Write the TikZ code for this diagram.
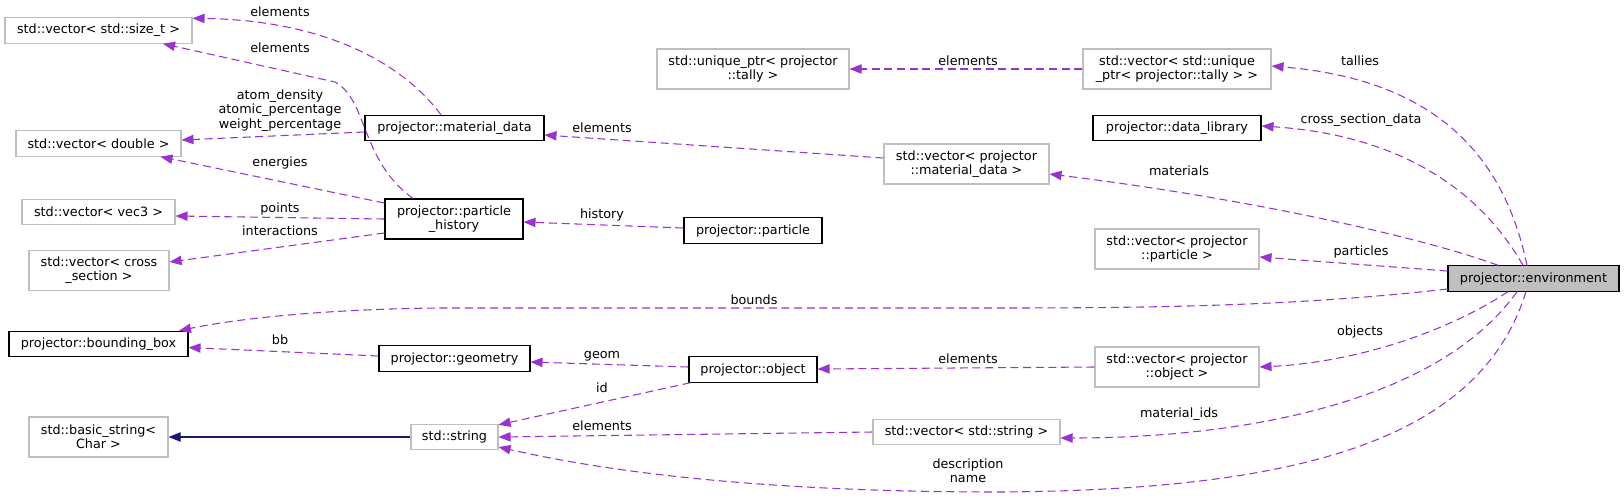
\documentclass[tikz,border=0pt]{standalone}
\usepackage{fontspec}
\setmainfont{DejaVu Sans}
\usetikzlibrary{arrows.meta,calc}
\definecolor{edgec}{HTML}{9A32CD}
\definecolor{greyb}{HTML}{BFBFBF}
\definecolor{navyc}{HTML}{191970}
\tikzset{
  base/.style={font=\fontsize{9.58}{10.7}\selectfont, inner sep=0pt, align=center, text=black},
  gbox/.style={base, draw=greyb, line width=0.8pt, minimum height=19pt},
  kbox/.style={base, draw=black, line width=0.8pt, minimum height=19pt},
  rootbox/.style={base, draw=black, fill=greyb, line width=0.8pt, minimum height=19pt},
  twoline/.style={minimum height=30pt},
  rel/.style={draw=edgec, line width=0.8pt, dash pattern=on 6pt off 3.5pt, -{Triangle[length=9pt,width=7pt]}},
  inh/.style={draw=navyc, line width=0.8pt, -{Triangle[length=9pt,width=7pt]}},
  lab/.style={base},
}
\begin{document}
\begin{tikzpicture}[x=0.75pt,y=-0.75pt]
\useasboundingbox (0,0) rectangle (1624,497);
% left column
\node[gbox, minimum width=140.25pt] (sizet) at (98.5,30.5) {std::vector< std::size\_t >};
\node[gbox, minimum width=123.75pt] (dbl) at (98.5,143.5) {std::vector< double >};
\node[gbox, minimum width=114.75pt] (vec3) at (98.5,212) {std::vector< vec3 >};
\node[gbox, twoline, minimum width=105pt] (xsec) at (99,270.5) {std::vector< cross\\\_section >};
\node[kbox, minimum width=134.25pt] (bndbox) at (98.5,344) {projector::bounding\_box};
\node[gbox, twoline, minimum width=104.25pt] (bstr) at (98.5,437) {std::basic\_string<\\Char >};
% second column
\node[kbox, minimum width=134.25pt] (matdata) at (454.5,128) {projector::material\_data};
\node[kbox, twoline, minimum width=103.5pt] (phist) at (454,219) {projector::particle\\\_history};
\node[kbox, minimum width=113.25pt] (geom) at (454.5,358.5) {projector::geometry};
\node[gbox, minimum width=65.25pt] (str) at (454.5,437) {std::string};
% third column
\node[gbox, twoline, minimum width=144pt] (uptr) at (753,69) {std::unique\_ptr< projector\\::tally >};
\node[kbox, minimum width=103.5pt] (particle) at (753,230.5) {projector::particle};
\node[kbox, minimum width=96pt] (object) at (753,369.5) {projector::object};
% fourth column
\node[gbox, twoline, minimum width=123.75pt] (vmat) at (966.5,164) {std::vector< projector\\::material\_data >};
\node[gbox, minimum width=140.25pt] (vstr) at (966.5,432) {std::vector< std::string >};
% fifth column
\node[gbox, twoline, minimum width=141pt] (vuptr) at (1177,69) {std::vector< std::unique\\\_ptr< projector::tally > >};
\node[kbox, minimum width=126pt] (dlib) at (1177,128) {projector::data\_library};
\node[gbox, twoline, minimum width=123pt] (vpart) at (1177,249) {std::vector< projector\\::particle >};
\node[gbox, twoline, minimum width=123pt] (vobj) at (1177,367) {std::vector< projector\\::object >};
% root
\node[rootbox, minimum width=128.25pt] (env) at (1533.5,278.5) {projector::environment};

% edges
\draw[rel] ($(matdata.north)+(-13.5,0)$) .. controls (400,60) and (320,20) .. ($(sizet.north east)+(0,1)$);
\node[lab] (l1) at (280,12) {elements};
\draw[rel] ($(phist.north)+(-41,0)$) .. controls (360,160) and (368,100) .. (335,82) -- ($(sizet.south)+(64.5,0)$);
\node[lab] (l2) at (280,48) {elements};
\draw[rel] ($(matdata.west)+(0,4)$) -- ($(dbl.east)+(0,-3.5)$);
\node[lab] (l3) at (280,110.5) {atom\_density\\atomic\_percentage\\weight\_percentage};
\draw[rel] ($(phist.west)+(0,-16)$) -- ($(dbl.south)+(62,0)$);
\node[lab] (l4) at (280,163) {energies};
\draw[rel] (phist.west) -- ($(vec3.east)+(0,4)$);
\node[lab] (l5) at (280,209) {points};
\draw[rel] ($(phist.west)+(0,14)$) -- ($(xsec.east)+(0,-8.5)$);
\node[lab] (l6) at (280,231) {interactions};
\draw[rel] ($(particle.west)+(0,-2.5)$) -- ($(phist.east)+(0,3)$);
\node[lab] (l7) at (602,215) {history};
\draw[rel] ($(vmat.west)+(0,-6)$) -- ($(matdata.east)+(0,7)$);
\node[lab] (l8) at (602,128) {elements};
\draw[rel] (vuptr.west) -- (uptr.east);
\node[lab] (l9) at (968,61) {elements};
\draw[rel] ($(env.north)+(-6.5,0)$) .. controls (1505,160) and (1440,80) .. ($(vuptr.east)+(0,-3)$);
\node[lab] (l10) at (1360,61) {tallies};
\draw[rel] ($(env.north)+(-10.5,0)$) .. controls (1480,190) and (1400,135) .. ($(dlib.east)+(0,-2)$);
\node[lab] (l11) at (1361,120) {cross\_section\_data};
\draw[rel] ($(env.north)+(-35.5,0)$) .. controls (1430,240) and (1260,200) .. ($(vmat.east)+(0,10)$);
\node[lab] (l12) at (1179,171) {materials};
\draw[rel] ($(env.west)+(0,-7.5)$) -- ($(vpart.east)+(0,8)$);
\node[lab] (l13) at (1361,252) {particles};
\draw[rel] ($(env.west)+(0,10.5)$) .. controls (1300,306) and (1150,308) .. (1000,308) -- (440,308) .. controls (330,309) and (240,318) .. ($(bndbox.north)+(80.5,0)$);
\node[lab] (l14) at (754,300) {bounds};
\draw[rel] ($(geom.west)+(0,-2.5)$) -- ($(bndbox.east)+(0,3.5)$);
\node[lab] (l15) at (280,340) {bb};
\draw[rel] ($(object.west)+(0,-2.5)$) -- ($(geom.east)+(0,3.5)$);
\node[lab] (l16) at (602,356) {geom};
\draw[rel] ($(object.south west)+(2,0)$) -- ($(str.north east)+(0,1)$);
\node[lab] (l17) at (602,388) {id};
\draw[rel] (vobj.west) -- ($(object.east)+(0,-0.5)$);
\node[lab] (l18) at (968,359) {elements};
\draw[rel] ($(env.south)+(-25.5,0)$) .. controls (1450,330) and (1360,362) .. (vobj.east);
\node[lab] (l19) at (1360,332) {objects};
\draw[rel] (vstr.west) -- (str.east);
\node[lab] (l20) at (602,426) {elements};
\draw[rel] ($(env.south)+(-16.5,0)$) .. controls (1440,400) and (1250,438) .. ($(vstr.east)+(0,6)$);
\node[lab] (l21) at (1179,414) {material\_ids};
\draw[rel] ($(env.south)+(-7.5,0)$) .. controls (1480,440) and (1300,490) .. (1000,492) .. controls (750,492) and (600,470) .. ($(str.east)+(0,10)$);
\node[lab] (l22) at (968,470.5) {description\\name};
\draw[inh] (str.west) -- (bstr.east);
\end{tikzpicture}
\end{document}
